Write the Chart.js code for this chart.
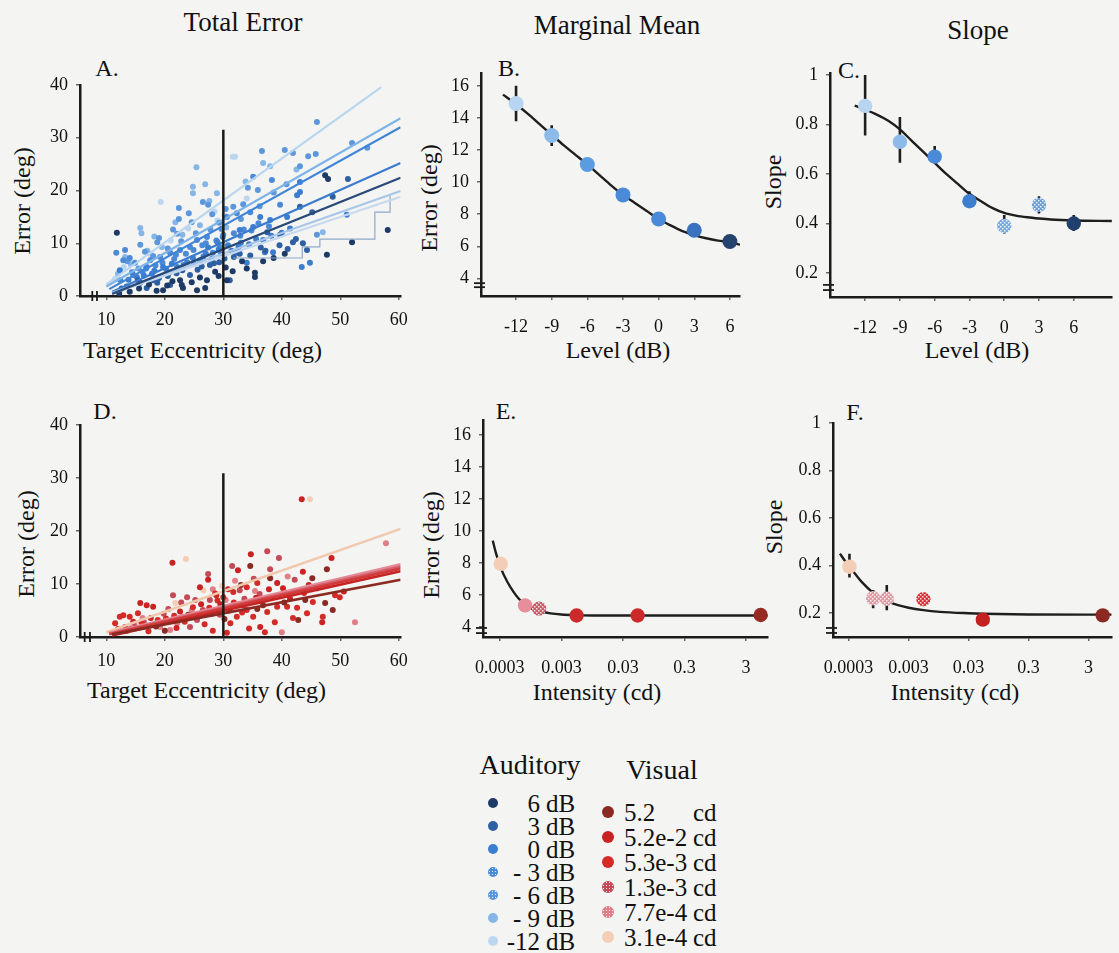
<!DOCTYPE html>
<html lang="en">
<head>
<meta charset="UTF-8"/>
<title>Total Error, Marginal Mean and Slope</title>
<script src="https://cdn.jsdelivr.net/npm/chart.js"></script>
<style>
  body { margin:0; background:#f4f4f2; font-family:'Liberation Serif','Times New Roman',serif; color:#111; }
  #page { position:relative; width:1119px; height:953px; overflow:hidden; }
  #page canvas { position:absolute; }
  .t { position:absolute; white-space:nowrap; line-height:1; transform:translate(-50%,-50%); }
  .tl { position:absolute; white-space:nowrap; line-height:1; transform:translate(0,-50%); }
  .rot { transform:translate(-50%,-50%) rotate(-90deg); }
  .head { font-size:27px; }
  .letter { font-size:24px; }
  .ax { font-size:24px; }
  .lgTitle { font-size:28px; }
  .lg { font-size:25px; }
  .dot { position:absolute; border-radius:50%; transform:translate(-50%,-50%); }
</style>
</head>
<body>
<div id="page">
  <div class="t head" style="left:243px;top:22px">Total Error</div>
  <div class="t head" style="left:617px;top:25px">Marginal Mean</div>
  <div class="t head" style="left:978px;top:30px">Slope</div>

  <div class="t letter" style="left:107px;top:68px">A.</div>
  <div class="t letter" style="left:509px;top:68px">B.</div>
  <div class="t letter" style="left:849px;top:70px">C.</div>
  <div class="t letter" style="left:105px;top:411px">D.</div>
  <div class="t letter" style="left:506px;top:411px">E.</div>
  <div class="t letter" style="left:855px;top:412px">F.</div>

  <div class="t ax rot" style="left:22px;top:201px">Error (deg)</div>
  <div class="tl ax" style="left:83px;top:350px">Target Eccentricity (deg)</div>
  <div class="t ax rot" style="left:429px;top:198px">Error (deg)</div>
  <div class="t ax" style="left:618px;top:350px">Level (dB)</div>
  <div class="t ax rot" style="left:773px;top:182px">Slope</div>
  <div class="t ax" style="left:977px;top:350px">Level (dB)</div>
  <div class="t ax rot" style="left:26px;top:544px">Error (deg)</div>
  <div class="tl ax" style="left:87px;top:690px">Target Eccentricity (deg)</div>
  <div class="t ax rot" style="left:431px;top:545px">Error (deg)</div>
  <div class="t ax" style="left:597px;top:692px">Intensity (cd)</div>
  <div class="t ax rot" style="left:774px;top:527px">Slope</div>
  <div class="t ax" style="left:955px;top:692px">Intensity (cd)</div>

  <div class="t lgTitle" style="left:530px;top:765px">Auditory</div>
  <div class="t lgTitle" style="left:662px;top:770px">Visual</div>
  <div id="legend"></div>

  <canvas id="cA" width="415" height="290"></canvas>
  <canvas id="cB" width="330" height="290"></canvas>
  <canvas id="cC" width="349" height="290"></canvas>
  <canvas id="cD" width="415" height="290"></canvas>
  <canvas id="cE" width="355" height="290"></canvas>
  <canvas id="cF" width="349" height="290"></canvas>
</div>
<script>
// ---------- data ----------
// auditory levels, order: 6, 3, 0, -3, -6, -9, -12 dB
const audLabels = ['6', '3', '0', '- 3', '- 6', '- 9', '-12'];
const audColors = ['#1e3a66', '#2d5fa3', '#3b7dd0', '#4a8ad6', '#5d97db', '#86b6e8', '#bcd6f0'];
const audStipple = [false, false, false, true, true, false, false];

// A. single trials (target eccentricity, error)
const audPts6 = [[47.4,22.9],[47.9,22.2],[58.1,12.5],[52.0,10.2],[47.7,7.8],[35.4,4.4],[35.4,3.6],[11.8,12.0],[26.9,1.5],[25.5,1.1],[23.1,1.5],[30.6,3.0],[27.2,3.0],[19.7,1.1],[22.6,3.0],[14.0,0.8],[17.3,2.2],[21.3,2.8],[24.6,2.6],[28.6,4.6],[30.4,5.4],[33.2,6.6],[38.6,7.2],
  [12.2,0.5],[15.6,1.4],[18.6,1.0],[20.4,2.0],[22.9,2.1],[26.0,3.5],[29.2,3.8],[31.6,4.7],[34.0,5.2],[36.8,6.6],[40.5,8.0]];
const audPts3 = [[51.3,22.2],[48.7,18.8],[43.1,16.9],[45.2,15.9],[37.5,12.1],[39.7,11.6],[41.9,10.2],[43.6,10.0],[44.3,8.7],[24.3,4.0],[20.9,2.1],[18.7,2.5],[15.4,3.0],[16.9,1.5],[27.7,5.9],[31.1,3.0],[13.5,1.8],[19.0,3.4],[22.0,4.3],[25.6,5.0],[28.4,6.2],[30.2,7.1],[32.8,8.0],[36.4,9.2],[41.0,8.9],
  [12.6,1.4],[15.8,2.5],[18.0,3.0],[20.5,3.8],[23.0,4.9],[26.3,5.6],[29.3,6.4],[31.8,7.4],[34.6,7.7],[37.2,8.6],[39.6,9.6],[42.4,10.8]];
const audPts0 = [[43.1,21.6],[43.1,19.7],[42.6,19.1],[36.3,15.0],[38.0,14.4],[40.9,15.0],[51.1,15.4],[35.1,13.1],[32.8,12.5],[29.9,11.2],[38.5,8.3],[37.1,8.3],[43.4,5.5],[44.8,6.3],[34.0,6.3],[32.3,8.2],[26.0,6.8],[23.8,6.4],[22.1,5.5],[19.7,5.5],[16.9,5.5],[14.4,4.5],[12.3,4.9],[15.2,3.6],[17.8,4.2],[20.2,5.1],[24.8,7.2],[27.0,8.0],[29.2,8.8],[30.8,9.6],[33.0,10.1],[35.6,10.8],[40.0,12.0],
  [13.8,3.1],[16.4,3.9],[18.2,4.8],[20.8,4.4],[23.2,5.9],[25.0,6.1],[26.6,7.5],[28.0,7.0],[29.6,7.9],[31.4,8.6],[32.6,9.3],[34.4,9.8],[36.8,10.6],[38.2,11.4],[41.4,12.8],[29.0,10.2],[27.4,9.2],[21.2,6.1]];
const audPtsM3 = [[38.3,22.0],[35.1,22.6],[39.7,17.3],[34.6,15.9],[32.3,15.7],[30.6,15.0],[27.2,11.2],[25.5,10.6],[24.3,9.3],[22.6,8.7],[20.9,8.2],[19.2,7.4],[17.5,6.8],[14.9,6.3],[14.0,7.2],[12.9,6.8],[13.2,8.7],[11.7,8.2],[28.2,8.2],[29.4,9.3],[31.8,11.9],[33.5,12.6],[36.0,13.8],[16.2,4.6],[18.4,5.8],[21.6,7.0],[23.6,8.0],[26.4,9.6],[28.8,10.5],
  [12.4,3.0],[14.6,4.0],[16.8,5.2],[19.6,6.3],[21.9,7.8],[24.9,8.7],[27.0,10.0],[30.0,11.6],[32.9,11.4],[34.8,12.4],[37.8,13.2],[29.7,12.7]];
const audPtsM6 = [[46.0,33.0],[40.5,27.7],[41.9,27.1],[44.5,26.5],[45.8,26.9],[54.6,28.1],[52.0,29.0],[36.6,27.5],[43.1,24.6],[34.2,20.5],[35.9,20.1],[33.4,17.4],[31.7,16.9],[46.0,11.6],[22.4,16.7],[24.1,15.7],[22.4,14.6],[26.5,17.8],[27.4,17.3],[22.1,11.8],[18.7,10.2],[15.8,9.7],[20.5,9.0],[22.8,10.4],[25.3,11.9],[27.8,12.6],[29.3,13.9],[18.0,7.6],[15.5,5.2],
  [13.6,6.6],[16.6,8.4],[19.0,11.0],[21.4,12.6],[24.6,14.0],[28.1,15.5],[30.4,16.5],[33.0,14.6],[36.2,17.0],[38.6,19.6],[40.8,21.2]];
const audPtsM9 = [[36.8,25.2],[38.0,24.6],[25.4,24.4],[26.9,21.2],[24.8,20.7],[24.8,19.5],[28.9,19.5],[15.8,12.9],[16.0,11.9],[47.0,12.1],[26.0,13.4],[23.0,11.6],[19.5,9.3],[17.0,8.6],[14.2,6.0],[12.0,4.2],[30.5,13.0],
  [13.2,7.4],[18.2,11.3],[21.8,14.0],[27.6,18.0],[33.8,21.7],[42.5,24.0]];
const audPtsM12 = [[31.6,26.4],[32.0,26.4],[19.3,17.8],[28.5,16.0],[30.2,15.2],[24.0,12.8],[21.0,10.5],[17.5,8.0],[13.0,5.5],[11.5,3.2],[34.0,18.5],[29.0,14.3]];
const audPts = [audPts6, audPts3, audPts0, audPtsM3, audPtsM6, audPtsM9, audPtsM12];

// A. per-level regression lines (start x, start y, end x, end y)
const audFitX1 = [11, 11, 11, 11, 10.5, 10, 10];
const audFitY1 = [0.4, 0.5, 0.6, 0.8, 1.3, 1.8, 2.2];
const audFitX2 = [60.3, 60.3, 60.3, 60.3, 60.3, 60.3, 57];
const audFitY2 = [22.4, 18.8, 19.9, 25.2, 32.0, 33.7, 39.6];
const audFitColors = ['#2a4a78', '#c6d9ee', '#a8c6e8', '#3a7bcf', '#3f84d6', '#7db3e8', '#b9d6f0'];
// stepped trace in panel A
const audStepX = [31.7, 43.5, 43.5, 46.5, 46.5, 55.9, 55.9, 58.5, 58.5];
const audStepY = [7.2, 7.2, 9.3, 9.3, 10.8, 10.8, 15.9, 15.9, 19.1];

// visual intensities, order: 5.2, 5.2e-2, 5.3e-3, 1.3e-3, 7.7e-4, 3.1e-4 cd
const visLabels = ['5.2', '5.2e-2', '5.3e-3', '1.3e-3', '7.7e-4', '3.1e-4'];
const visColors = ['#8b2a22', '#c92222', '#d42a28', '#c44a58', '#e07f88', '#f3cdb6'];
const visStipple = [false, false, false, true, true, false];

// D. single trials
const visPts1 = [[47.7,12.8],[34.6,13.4],[45.2,11.1],[38.0,11.1],[47.4,6.4],[48.7,5.1],[42.8,3.2],[33.0,9.8],[28.0,4.4],[18.5,2.0],[13.5,1.2],[36.8,6.0],
  [15.0,1.8],[20.0,1.2],[24.0,4.2],[30.2,3.4],[35.8,5.3],[40.4,6.5],[44.0,7.0]];
const visPts2 = [[43.4,26.0],[21.3,14.0],[34.7,15.6],[48.5,14.9],[32.5,12.6],[26.0,9.4],[27.4,10.8],[43.6,12.3],[39.2,10.2],[40.2,9.2],[46.9,2.8],[36.3,1.9],[18.0,5.7],[16.9,6.0],[15.8,6.4],[22.6,4.8],[29.5,6.2],[31.0,5.0],
  [12.0,1.5],[14.6,2.9],[17.6,3.6],[19.4,2.6],[22.0,1.7],[24.0,3.6],[26.2,6.2],[28.8,7.9],[30.8,9.0],[33.4,6.0],[35.6,7.4],[37.8,9.0],[41.4,7.2],[44.6,9.8],[47.8,10.1],[50.6,8.6]];
const visPts3 = [[35.8,10.2],[34.0,9.4],[31.7,8.5],[30.0,7.5],[49.9,7.5],[49.1,7.9],[47.0,3.8],[44.3,4.5],[42.6,5.5],[41.9,3.6],[40.9,5.7],[39.2,5.7],[37.5,4.7],[37.1,0.9],[35.1,3.8],[34.0,5.1],[32.3,3.8],[31.2,2.6],[30.6,0.8],[45.3,6.6],[12.9,4.1],[11.5,2.6],[12.3,3.8],[14.0,3.8],[15.4,4.5],[20.2,3.5],[24.8,5.6],[26.8,2.4],[28.6,8.2],[17.2,1.1],
  [13.2,1.9],[16.0,2.8],[18.8,3.2],[21.6,4.0],[23.4,2.9],[25.8,4.2],[27.6,5.5],[29.0,6.9],[31.8,6.5],[33.2,4.6],[36.0,6.8],[38.4,7.6],[40.6,8.1],[43.8,8.3],[46.0,9.2],[34.4,1.6],[38.8,2.8],[28.2,1.2]];
const visPts4 = [[37.5,16.2],[39.5,14.9],[31.5,13.4],[27.4,11.9],[27.7,7.0],[26.5,5.1],[25.5,3.2],[24.3,1.9],[21.4,7.9],[23.8,7.5],[25.2,7.0],[19.8,4.4],[16.4,2.9],[33.6,7.2],[36.2,8.1],
  [14.2,1.6],[18.2,2.2],[20.6,5.3],[22.8,6.5],[29.4,4.2],[32.8,8.8],[35.2,11.0],[38.0,12.8],[42.2,10.8]];
const visPts5 = [[57.8,17.7],[40.0,0.9],[52.5,2.8],[23.1,3.8],[22.1,2.6],[20.9,1.3],[19.2,1.9],[28.2,9.0],[32.0,10.6],[14.8,2.4],
  [16.2,3.6],[24.6,5.0],[30.4,7.0],[35.4,8.7],[41.0,11.4]];
const visPts6 = [[44.8,26.0],[23.6,14.7],[26.6,8.8],[29.8,9.6],[21.8,6.4]];
const visPts = [visPts1, visPts2, visPts3, visPts4, visPts5, visPts6];

const visFitX1 = [11, 11, 10.5, 10.5, 10.5, 10];
const visFitY1 = [0.5, 0.3, 0.5, 0.6, 0.8, 0.9];
const visFitX2 = [60.3, 60.3, 60.3, 60.3, 60.3, 60.3];
const visFitY2 = [10.8, 12.4, 12.9, 13.3, 13.7, 20.4];
const visFitColors = ['#8b2a22', '#c62424', '#d23a3a', '#d4606e', '#e58a95', '#f0c8ae'];

// B. / C. marginal mean and slope by level
const levelsDB = [-12, -9, -6, -3, 0, 3, 6];
const bMean = [14.9, 12.9, 11.1, 9.2, 7.7, 7.0, 6.3];
const bLo = [13.8, 12.25, 10.8, 8.95, 7.45, 6.75, 6.05];
const bHi = [16.0, 13.55, 11.4, 9.45, 7.95, 7.25, 6.55];
const bFitX = [-13.1, -12, -11, -10, -9, -8, -7, -6, -5, -4, -3, -2, -1, 0, 1, 2, 3, 4, 5, 6, 6.85];
const bFitY = [15.45, 14.85, 14.25, 13.6, 12.95, 12.3, 11.7, 11.1, 10.45, 9.8, 9.2, 8.7, 8.2, 7.7, 7.3, 6.95, 6.7, 6.5, 6.35, 6.25, 6.1];
const bColors = ['#b7d4f0', '#8cbbe9', '#5b9be0', '#4a8ad8', '#4a8ad8', '#3a72c0', '#26436f'];

const cMean = [0.875, 0.73, 0.67, 0.49, 0.39, 0.475, 0.40];
const cLo = [0.755, 0.645, 0.657, 0.465, 0.36, 0.44, 0.37];
const cHi = [1.0, 0.83, 0.713, 0.53, 0.434, 0.51, 0.434];
const cFitX = [-12.9, -12, -11, -10, -9, -8, -7, -6, -5, -4, -3, -2, -1, 0, 1, 2, 3, 4, 6, 9.3];
const cFitY = [0.876, 0.86, 0.84, 0.815, 0.78, 0.735, 0.69, 0.645, 0.6, 0.56, 0.52, 0.49, 0.462, 0.443, 0.432, 0.425, 0.42, 0.416, 0.412, 0.41];

// E. / F. marginal mean and slope by intensity
const intensities = [3.1e-4, 7.7e-4, 1.3e-3, 5.3e-3, 5.2e-2, 5.2];
const eMean = [7.95, 5.35, 5.15, 4.72, 4.72, 4.75];
const eFitX = [2.3e-4, 2.6e-4, 3.1e-4, 4e-4, 5e-4, 6e-4, 7.7e-4, 1e-3, 1.3e-3, 2e-3, 3e-3, 5.3e-3, 1e-2, 5.2e-2, 0.5, 6.8];
const eFitY = [9.4, 8.6, 7.7, 6.8, 6.2, 5.8, 5.4, 5.15, 5.0, 4.85, 4.78, 4.74, 4.72, 4.72, 4.72, 4.72];

const fMean = [0.395, 0.262, 0.26, 0.258, 0.172, 0.19];
const fLo = [0.35, 0.22, 0.212, 0.234, 0.155, 0.175];
const fHi = [0.45, 0.297, 0.318, 0.284, 0.19, 0.205];
const fFitX = [2.15e-4, 2.6e-4, 3.1e-4, 4e-4, 5e-4, 7.7e-4, 1e-3, 1.3e-3, 2e-3, 3e-3, 5.3e-3, 1e-2, 3e-2, 5.2e-2, 0.3, 7.3];
const fFitY = [0.45, 0.42, 0.395, 0.36, 0.33, 0.285, 0.265, 0.25, 0.233, 0.222, 0.212, 0.205, 0.199, 0.197, 0.194, 0.193];

// tick values
const eccTicks = [10, 20, 30, 40, 50, 60];
const errTicksA = [0, 10, 20, 30, 40];
const dbTicks = [-12, -9, -6, -3, 0, 3, 6];
const errTicksB = [4, 6, 8, 10, 12, 14, 16];
const slopeTicks = [0.2, 0.4, 0.6, 0.8, 1];
const cdTicks = [0.0003, 0.003, 0.03, 0.3, 3];
const cdTickLabels = ['0.0003', '0.003', '0.03', '0.3', '3'];

// ---------- helpers ----------
Chart.defaults.font.family = "'Liberation Serif', 'Times New Roman', serif";
Chart.defaults.color = '#111';

function stipple(base) {
  const c = document.createElement('canvas');
  c.width = 4; c.height = 4;
  const g = c.getContext('2d');
  g.fillStyle = base; g.fillRect(0, 0, 4, 4);
  g.fillStyle = 'rgba(255,255,255,0.85)';
  g.fillRect(0, 0, 1.5, 1.5); g.fillRect(2, 2, 1.5, 1.5);
  return g.createPattern(c, 'repeat');
}

// axis break marks drawn on the axis lines
const breakMarks = {
  id: 'breakMarks',
  afterDraw(chart, args, opts) {
    if (!opts || !opts.at) return;
    const ctx = chart.ctx, s = chart.scales[opts.axis], a = chart.chartArea;
    ctx.save();
    ctx.strokeStyle = '#1b1b1b'; ctx.lineWidth = 1.8;
    opts.at.forEach(v => {
      const p = s.getPixelForValue(v);
      ctx.beginPath();
      if (opts.axis === 'x') { ctx.moveTo(p, a.bottom - 5); ctx.lineTo(p, a.bottom + 5); }
      else { ctx.moveTo(a.left - 7, p); ctx.lineTo(a.left + 4, p); }
      ctx.stroke();
    });
    ctx.restore();
  }
};
Chart.register(breakMarks);

function place(id, box, area) {
  const cv = document.getElementById(id);
  cv.style.left = box.x + 'px'; cv.style.top = box.y + 'px';
  return {
    cv,
    pad: { left: 0, top: area.t - box.y, right: box.x + box.w - area.r, bottom: 0 },
    yW: area.l - box.x,
    xH: box.y + box.h - area.b
  };
}

function axis(min, max, ticks, fixer, extra) {
  return Object.assign({
    min, max,
    afterFit: fixer,
    afterBuildTicks: s => { s.ticks = ticks.map(v => ({ value: v })); },
    border: { display: true, color: '#1b1b1b', width: 2.5 },
    grid: { drawOnChartArea: false, drawTicks: true, tickLength: 4, color: '#666', lineWidth: 1.5 },
    ticks: { font: { size: 18 }, padding: 8, autoSkip: false, maxRotation: 0, color: '#111',
             callback: v => String(v) }
  }, extra || {});
}

function makeChart(p, datasets, xs, ys, breaks) {
  return new Chart(p.cv, {
    type: 'scatter',
    data: { datasets },
    options: {
      responsive: false, animation: false,
      layout: { padding: p.pad },
      plugins: { legend: { display: false }, tooltip: { enabled: false }, breakMarks: breaks },
      scales: { x: xs, y: ys }
    }
  });
}

const fixY = w => s => { s.width = w; s.paddingTop = 0; s.paddingBottom = 0; };
const fixX = h => s => { s.height = h; s.paddingLeft = 0; s.paddingRight = 0; };

const toXY = arr => arr.map(p => ({ x: p[0], y: p[1] }));
const zipXY = (xs, ys) => xs.map((x, i) => ({ x, y: ys[i] }));
function errSegs(xs, lo, hi) {
  const d = [];
  xs.forEach((x, i) => { d.push({ x, y: lo[i] }, { x, y: hi[i] }, { x, y: null }); });
  return d;
}
const lineDs = (data, color, width, order) => ({
  type: 'line', data, borderColor: color, borderWidth: width, pointRadius: 0,
  fill: false, tension: 0, order: order === undefined ? 0 : order
});
const curveDs = (xs, ys) => Object.assign(lineDs(zipXY(xs, ys), '#1e1e1e', 2.4, 1), { cubicInterpolationMode: 'monotone' });
const errDs = (xs, lo, hi) => lineDs(errSegs(xs, lo, hi), '#1e1e1e', 2.6, 2);
const markDs = (xs, ys, colors, r) => ({
  data: zipXY(xs, ys), pointRadius: r, pointBackgroundColor: colors, pointBorderWidth: 0, order: 0
});

// ---------- A ----------
{
  const p = place('cA', { x: 0, y: 60, w: 415, h: 290 }, { l: 80, t: 85, r: 400.6, b: 296 });
  const ds = [];
  audPts.forEach((pts, i) => ds.push({
    data: toXY(pts), pointRadius: 3, pointBorderWidth: 0,
    pointBackgroundColor: audColors[i], order: 3
  }));
  audFitX1.forEach((x, i) => ds.push(lineDs([{ x, y: audFitY1[i] }, { x: audFitX2[i], y: audFitY2[i] }], audFitColors[i], 2.2, 1)));
  ds.push(lineDs(zipXY(audStepX, audStepY), '#8ea8c8', 1.2, 2));
  ds.push(lineDs([{ x: 30, y: 0 }, { x: 30, y: 31.5 }], '#1b1b1b', 2.5, 0));
  makeChart(p, ds, axis(5.5, 60.3, eccTicks, fixX(p.xH), { ticks: { font: { size: 18 }, padding: 9, maxRotation: 0, autoSkip: false, color: '#111' } }),
    axis(0, 40, errTicksA, fixY(p.yW)), { axis: 'x', at: [7.6, 8.4] });
}

// ---------- B ----------
{
  const p = place('cB', { x: 420, y: 60, w: 330, h: 290 }, { l: 481, t: 73, r: 740, b: 296 });
  makeChart(p, [markDs(levelsDB, bMean, bColors, 7.5), curveDs(bFitX, bFitY), errDs(levelsDB, bLo, bHi)],
    axis(-14.95, 6.85, dbTicks, fixX(p.xH), { ticks: { font: { size: 18 }, padding: 16, maxRotation: 0, autoSkip: false, color: '#111' } }),
    axis(2.9, 16.8, errTicksB, fixY(p.yW)), { axis: 'y', at: [3.7, 3.45] });
}

// ---------- C ----------
{
  const p = place('cC', { x: 770, y: 60, w: 349, h: 290 }, { l: 830, t: 73, r: 1119, b: 297 });
  const colors = ['#b7d4f0', '#8cbbe9', '#4a8ad8', '#3f7fcf', stipple('#7aa8e0'), stipple('#6d9cd8'), '#22406e'];
  makeChart(p, [markDs(levelsDB, cMean, colors, 7.2), curveDs(cFitX, cFitY), errDs(levelsDB, cLo, cHi)],
    axis(-15.03, 9.28, dbTicks, fixX(p.xH), { ticks: { font: { size: 18 }, padding: 16, maxRotation: 0, autoSkip: false, color: '#111' } }),
    axis(0.103, 1.008, slopeTicks, fixY(p.yW)), { axis: 'y', at: [0.152, 0.131] });
}

// ---------- D ----------
{
  const p = place('cD', { x: 0, y: 400, w: 415, h: 290 }, { l: 80, t: 425, r: 400.6, b: 637 });
  const ds = [];
  visPts.forEach((pts, i) => ds.push({
    data: toXY(pts), pointRadius: 3, pointBorderWidth: 0,
    pointBackgroundColor: visColors[i], order: 3
  }));
  visFitX1.forEach((x, i) => ds.push(lineDs([{ x, y: visFitY1[i] }, { x: visFitX2[i], y: visFitY2[i] }], visFitColors[i], 2.6, 1)));
  ds.push(lineDs([{ x: 30, y: 0 }, { x: 30, y: 30.9 }], '#1b1b1b', 2.5, 0));
  makeChart(p, ds, axis(5.5, 60.3, eccTicks, fixX(p.xH), { ticks: { font: { size: 18 }, padding: 9, maxRotation: 0, autoSkip: false, color: '#111' } }),
    axis(0, 40, errTicksA, fixY(p.yW)), { axis: 'x', at: [6.3, 7.2] });
}

// ---------- E ----------
const logX = (min, max, fixer) => axis(min, max, cdTicks, fixer, {
  type: 'logarithmic',
  ticks: { font: { size: 18 }, padding: 16, maxRotation: 0, autoSkip: false, color: '#111',
           callback: (v, i) => cdTickLabels[i] }
});
{
  const p = place('cE', { x: 420, y: 400, w: 355, h: 290 }, { l: 483, t: 420, r: 770, b: 637 });
  const colors = ['#f3cdb6', '#e68e9a', stipple('#c95a68'), '#cc2a2a', '#cc2a2a', '#982a24'];
  makeChart(p, [markDs(intensities, eMean, colors, 7.2), curveDs(eFitX, eFitY)],
    logX(1.596e-4, 6.79, fixX(p.xH)),
    axis(3.375, 16.94, errTicksB, fixY(p.yW)), { axis: 'y', at: [3.94, 3.62] });
}

// ---------- F ----------
{
  const p = place('cF', { x: 770, y: 400, w: 349, h: 290 }, { l: 833, t: 423, r: 1119, b: 637 });
  const colors = ['#f3cdb6', stipple('#dc9aa2'), stipple('#dc9aa2'), stipple('#d8343a'), '#c42222', '#8b2a22'];
  makeChart(p, [markDs(intensities, fMean, colors, 7.2), curveDs(fFitX, fFitY), errDs(intensities, fLo, fHi)],
    logX(1.648e-4, 7.37, fixX(p.xH)),
    axis(0.099, 1.0, slopeTicks, fixY(p.yW)), { axis: 'y', at: [0.137, 0.116] });
}

// ---------- legend ----------
{
  const lg = document.getElementById('legend');
  const dotCss = (color, st, d) => 'width:' + d + 'px;height:' + d + 'px;background:' +
    (st ? 'radial-gradient(circle, rgba(255,255,255,0.85) 30%, transparent 38%) 0 0/3px 3px, ' : '') + color;
  let html = '';
  audLabels.forEach((lab, i) => {
    const y = 803 + i * 23;
    html += '<div class="dot" style="left:493px;top:' + y + 'px;' + dotCss(audColors[i], audStipple[i], 10) + '"></div>';
    html += '<div class="lg" style="position:absolute;right:' + (1119 - 540) + 'px;top:' + (y - 12) + 'px;line-height:1">' + lab + '</div>';
    html += '<div class="tl lg" style="left:546px;top:' + y + 'px">dB</div>';
  });
  visLabels.forEach((lab, i) => {
    const y = 812 + i * 25;
    html += '<div class="dot" style="left:608px;top:' + y + 'px;' + dotCss(visColors[i], visStipple[i], 12) + '"></div>';
    html += '<div class="tl lg" style="left:624px;top:' + y + 'px">' + lab + '</div>';
    html += '<div class="tl lg" style="left:693px;top:' + y + 'px">cd</div>';
  });
  lg.innerHTML = html;
}
</script>
</body>
</html>
